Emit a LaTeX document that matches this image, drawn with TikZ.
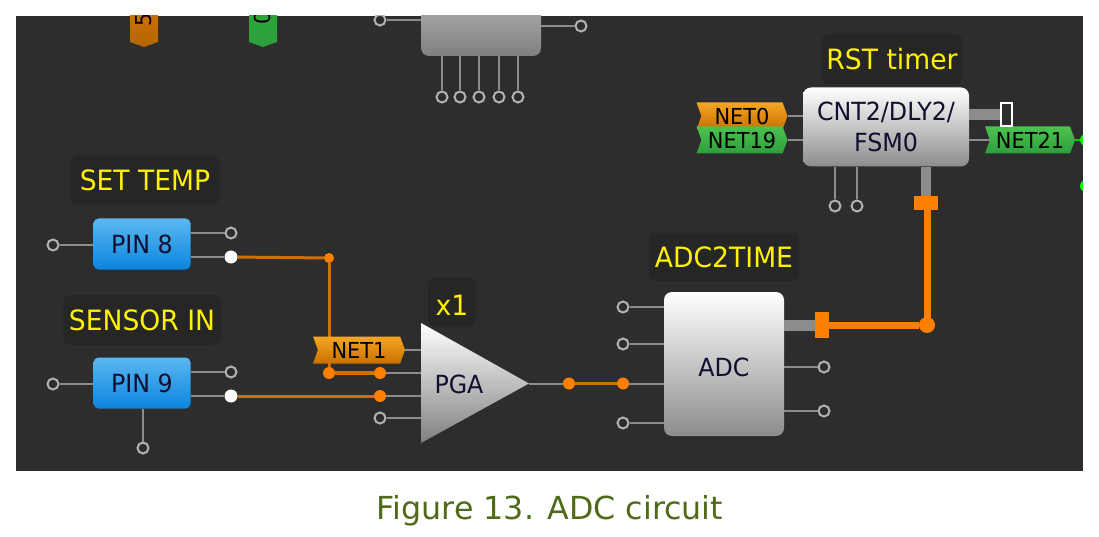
\documentclass[tikz,border=0pt]{standalone}
\usepackage{fontspec}
\setmainfont{DejaVu Sans}
\newfontfamily\schfont[FakeStretch=0.95]{DejaVu Sans}
\usetikzlibrary{shapes.symbols}

\definecolor{panel}{HTML}{2D2D2D}
\definecolor{caption}{HTML}{4F6B1A}
\definecolor{wire}{HTML}{8C8C8C}
\definecolor{net}{HTML}{D07000}
\definecolor{bus}{HTML}{FF8000}
\definecolor{ink}{HTML}{101030}
\definecolor{pintop}{HTML}{5BB8F0}
\definecolor{pinbot}{HTML}{0B84DE}
\definecolor{orgtop}{HTML}{F5A623}
\definecolor{orgbot}{HTML}{C87000}
\definecolor{grntop}{HTML}{4CC24C}
\definecolor{grnbot}{HTML}{2E9E3E}

\tikzstyle{pin} = [circle, minimum width=11pt, inner sep=0pt, draw=white!70!black, line width=2pt, fill=panel]
\tikzstyle{live} = [circle, minimum width=13pt, inner sep=0pt, fill=white]
\tikzstyle{dot} = [circle, minimum width=12pt, inner sep=0pt, fill=bus]
\tikzstyle{title} = [rectangle, rounded corners=8pt, fill=black!16!panel, text=yellow, inner sep=0pt, font=\schfont\fontsize{28}{30}\selectfont]
\tikzstyle{block} = [rectangle, rounded corners=8pt, top color=white, bottom color=black!45, inner sep=0pt, text=ink, font=\schfont\fontsize{25}{31}\selectfont, align=center]
\tikzstyle{pinbox} = [rectangle, rounded corners=5pt, top color=pintop, bottom color=pinbot, minimum width=97pt, minimum height=51pt, inner sep=0pt, text=ink, font=\schfont\fontsize{25}{27}\selectfont]
\tikzstyle{tagbox} = [signal, signal to=east, signal from=west, signal pointer angle=140, inner sep=0pt, minimum height=27pt, text=black, font=\schfont\fontsize{22}{24}\selectfont]
\tikzstyle{tagorange} = [tagbox, top color=orgtop, bottom color=orgbot]
\tikzstyle{taggreen} = [tagbox, top color=grntop, bottom color=grnbot]
\tikzstyle{lead} = [wire, line width=2pt]

\begin{document}
\begin{tikzpicture}[x=1pt, y=-1pt]
\useasboundingbox (0,0) rectangle (1099,537);
\fill[white] (0,0) rectangle (1099,537);
\begin{scope}
\clip (16,16) rectangle (1083,471);
\fill[panel] (16,16) rectangle (1083,471);

% parts cut off by the top edge
\shade[top color=orgbot!90!orange, bottom color=orgbot!90!black] (130,10)--(158,10)--(158,42)--(144,47)--(130,42)--cycle;
\shade[top color=grnbot!90!green, bottom color=grnbot] (249,10)--(277,10)--(277,42)--(263,47)--(249,42)--cycle;
\draw (144,20) node[rotate=90, text=black, font=\schfont\fontsize{22}{24}\selectfont] (tagA) {5};
\draw (262,18) node[rotate=90, text=black, font=\schfont\fontsize{22}{24}\selectfont] (tagB) {0};
\shade[top color=black!32, bottom color=black!50] (421,0) [rounded corners=8pt] -- (421,56) -- (541,56) [sharp corners] -- (541,0) -- cycle;
\coordinate (chipW) at (421,20);
\coordinate (chipE) at (541,26);
\draw (380,20) node[pin] (chipL) {};
\draw (581,26) node[pin] (chipR) {};
\draw[lead] (chipL) -- (chipW);
\draw[lead] (chipE) -- (chipR);
\foreach \n/\x in {1/442,2/460,3/479,4/499,5/518} {
  \coordinate (chipS\n) at (\x,56);
  \draw (\x,97) node[pin] (chipP\n) {};
  \draw[lead] (chipS\n) -- (chipP\n);
}

% inputs
\draw (145,180) node[title, minimum width=149pt, minimum height=49pt] (settemp) {SET TEMP};
\draw (142,244) node[pinbox] (pinA) {PIN 8};
\draw (53,245) node[pin] (pinAl) {};
\draw (231,233) node[pin] (pinAt) {};
\draw (231,257) node[live] (pinAb) {};
\draw (142,320) node[title, minimum width=158pt, minimum height=50pt] (sensor) {SENSOR IN};
\draw (142,383) node[pinbox] (pinB) {PIN 9};
\draw (53,384) node[pin] (pinBl) {};
\draw (231,372) node[pin] (pinBt) {};
\draw (231,396) node[live] (pinBb) {};
\draw (143,448) node[pin] (pinBs) {};
\draw[lead] (pinAl) -- (pinAl -| pinA.west);
\draw[lead] (pinAt) -- (pinAt -| pinA.east);
\draw[lead] (pinAb) -- (pinAb -| pinA.east);
\draw[lead] (pinBl) -- (pinBl -| pinB.west);
\draw[lead] (pinBt) -- (pinBt -| pinB.east);
\draw[lead] (pinBb) -- (pinBb -| pinB.east);
\draw[lead] (pinB.south -| pinBs) -- (pinBs);

% amplifier
\shade[top color=white, bottom color=black!50] (421,323) -- (529,383.5) -- (421,443) -- cycle;
\coordinate (pgaW) at (421,383);
\coordinate (pgaE) at (529,383.5);
\draw (459,384) node[text=ink, font=\schfont\fontsize{25}{27}\selectfont] (pga) {PGA};
\draw (452,302) node[title, minimum width=48pt, minimum height=50pt] (gain) {\raisebox{-3pt}[21pt][0pt]{x1}};
\draw (380,373) node[dot] (pgaA) {};
\draw (380,396) node[dot] (pgaB) {};
\draw (380,418) node[pin] (pgaC) {};
\draw (329,373) node[dot] (netA) {};
\draw (329,258) node[dot, minimum width=10pt] (netB) {};
\draw[net, line width=3pt] (pinAb) -- (netB);
\draw[net, line width=3pt] (netB) -- (netA);
\draw[net, line width=4pt] (netA) -- (pgaA);
\draw[net, line width=3pt] (pinBb) -- (pgaB);
\draw (359,350) node[tagorange, minimum width=92pt] (net1) {NET1};
\draw[lead] (net1.east) -- (net1 -| pgaW);
\draw[lead] (pgaA) -- (pgaA -| pgaW);
\draw[lead] (pgaB) -- (pgaB -| pgaW);
\draw[lead] (pgaC) -- (pgaC -| pgaW);

% converter
\draw (724,364) node[block, minimum width=120pt, minimum height=144pt] (adc) {\raisebox{-3pt}[18pt][0pt]{ADC}};
\draw (724,257) node[title, minimum width=150pt, minimum height=48pt] (adctime) {ADC2TIME};
\draw (569,383.5) node[dot] (adcN) {};
\draw (623,383.5) node[dot] (adcI) {};
\draw (623,307) node[pin] (adcA) {};
\draw (623,344) node[pin] (adcB) {};
\draw (623,423) node[pin] (adcC) {};
\draw (824,367) node[pin] (adcD) {};
\draw (824,411) node[pin] (adcE) {};
\draw[lead] (pgaE) -- (adcN);
\draw[net, line width=3pt] (adcN) -- (adcI);
\draw[lead] (adcI) -- (adcI -| adc.west);
\draw[lead] (adcA) -- (adcA -| adc.west);
\draw[lead] (adcB) -- (adcB -| adc.west);
\draw[lead] (adcC) -- (adcC -| adc.west);
\draw[lead] (adcD) -- (adcD -| adc.east);
\draw[lead] (adcE) -- (adcE -| adc.east);

% timer
\draw (886,127) node[block, minimum width=166pt, minimum height=79pt] (cnt) {CNT2/DLY2/\\FSM0};
\draw (892,59) node[title, minimum width=141pt, minimum height=50pt] (rst) {RST timer};
\draw (742,116) node[tagorange, minimum width=91pt] (net0) {NET0};
\draw (742,140) node[taggreen, minimum width=91pt] (net19) {NET19};
\draw (1030,140) node[taggreen, minimum width=90pt] (net21) {NET21};
\draw[lead] (net0.east) -- (net0 -| cnt.west);
\draw[lead] (net19.east) -- (net19 -| cnt.west);
\draw[lead] (net21.west) -- (net21 -| cnt.east);
\draw (835,206) node[pin] (cntA) {};
\draw (857,206) node[pin] (cntB) {};
\draw[lead] (cnt.south -| cntA) -- (cntA);
\draw[lead] (cnt.south -| cntB) -- (cntB);
\draw (1086,140) node[dot, fill=green] (outA) {};
\draw (1086,186) node[dot, fill=green] (outB) {};
\draw[green!80!black, line width=2pt] (net21.east) -- (outA);

% bus between the blocks
\draw (822,325) node[rectangle, fill=bus, minimum width=14pt, minimum height=26pt, inner sep=0pt] (adcO) {};
\draw (926,203) node[rectangle, fill=bus, minimum width=24pt, minimum height=14pt, inner sep=0pt] (cntO) {};
\draw (927,325) node[dot, minimum width=16pt] (corner) {};
\draw (1006.5,114.5) node[rectangle, draw=white, line width=2pt, fill=panel, minimum width=11pt, minimum height=23pt, inner sep=0pt] (cntQ) {};
\draw[wire, line width=11pt] (adc.east |- adcO) -- (adcO.west);
\draw[wire, line width=10pt] (cnt.south -| cntO) -- (cntO.north);
\draw[wire, line width=11pt] (cntQ -| cnt.east) -- (cntQ.west);
\draw[bus, line width=7pt] (adcO.east) -- (corner);
\draw[bus, line width=7pt] (corner.center) -- (corner.center |- cntO.south);
\end{scope}

\draw (550,511) node[text=caption, font=\fontsize{31.7}{34}\selectfont] (fig) {Figure 13. ADC circuit};
\end{tikzpicture}
\end{document}
